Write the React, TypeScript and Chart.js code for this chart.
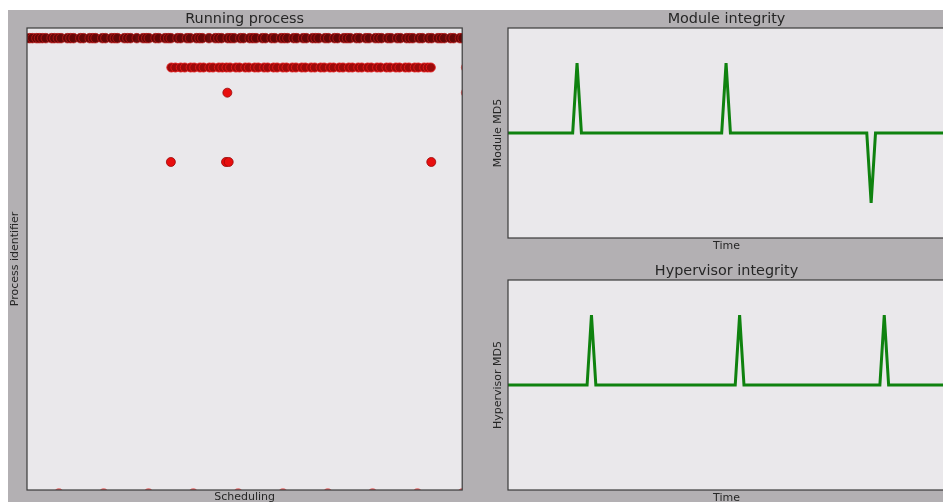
import React, { useEffect, useRef } from "react";
import { Chart, registerables } from "chart.js";

Chart.register(...registerables);

// ---------- Running process (scatter) ----------
const schedTop = [
  2.5, 3.4, 4.1, 5.0, 5.6, 6.3, 7.1, 8.4, 9.0, 9.8, 10.5, 11.9, 12.6, 13.3, 14.8, 15.5, 16.9, 17.6, 18.2,
  19.7, 20.4, 21.8, 22.5, 23.1, 24.6, 25.3, 26.0, 27.4, 28.8, 29.5, 30.1, 31.6, 32.3, 33.7, 34.4, 35.0,
  36.5, 37.2, 38.6, 39.3, 40.7, 41.4, 42.0, 43.5, 44.9, 45.6, 46.3, 47.7, 48.4, 49.1, 50.5, 51.2, 52.6,
  53.3, 54.0, 55.4, 56.1, 57.5, 58.2, 59.6, 60.3, 61.0, 62.4, 63.1, 64.5, 65.2, 66.6, 67.3, 68.0, 69.4,
  70.1, 71.5, 72.2, 73.6, 74.3, 75.0, 76.4, 77.1, 78.5, 79.2, 80.6, 81.3, 82.0, 83.4, 84.1, 85.5, 86.2,
  87.6, 88.3, 89.0, 90.4, 91.1, 92.5, 93.2, 94.6, 95.3, 96.0, 97.4, 98.1, 99.5, 100.1,
];
const pidTop = 97.8;

const schedRow2 = [
  35.1, 36.0, 37.2, 38.1, 39.4, 40.2, 41.5, 42.3, 43.6, 44.4, 45.7, 46.5, 47.4, 48.2, 49.5, 50.3, 51.6,
  52.4, 53.7, 54.5, 55.8, 56.6, 57.9, 58.7, 60.0, 60.8, 62.1, 62.9, 64.2, 65.0, 66.3, 67.1, 68.4, 69.2,
  70.5, 71.3, 72.6, 73.4, 74.7, 75.5, 76.8, 77.6, 78.9, 79.7, 81.0, 81.8, 83.1, 83.9, 85.2, 86.0, 87.3,
  88.1, 89.4, 90.2, 91.5, 92.3, 93.0,
];
const pidRow2 = 91.45;

const schedSingles = [47.6, 35.0, 47.3, 47.9, 93.1];
const pidSingles = [86.0, 71.0, 71.0, 71.0, 71.0];

const pidRightEdge = [91.45, 86.0, 77.5, 71.0];
const schedRightEdge = 100.7;
const schedBottomEdge = [10, 20, 30, 40, 50, 60, 70, 80, 90, 100];
const pidBottomEdge = -0.6;

// ---------- Module integrity ----------
const moduleTime = [0, 14.8, 15.8, 16.8, 48.9, 49.9, 50.9, 82.1, 83.1, 84.1, 100];
const moduleMD5 = [0, 0, 1, 0, 0, 1, 0, 0, -1, 0, 0];

// ---------- Hypervisor integrity ----------
const hyperTime = [0, 18.1, 19.1, 20.1, 52.0, 53.0, 54.0, 85.1, 86.1, 87.1, 100];
const hyperMD5 = [0, 0, 1, 0, 0, 1, 0, 0, 1, 0, 0];

const FONT = "DejaVu Sans";
const TEXT = "#262626";
const PLOT_BG = "#eae8eb";
const FIG_BG = "#b3b0b3";
const GREEN = "#0f820f";

const framePlugin = {
  id: "frame",
  beforeDatasetsDraw(chart: any) {
    const { ctx, chartArea } = chart;
    const { left, top, right, bottom } = chartArea;
    ctx.save();
    ctx.fillStyle = PLOT_BG;
    ctx.fillRect(left, top, right - left, bottom - top);
    ctx.restore();
  },
  afterDatasetsDraw(chart: any) {
    const { ctx, chartArea } = chart;
    const { left, top, right, bottom } = chartArea;
    ctx.save();
    ctx.strokeStyle = "#3a3a3a";
    ctx.lineWidth = 1.2;
    ctx.strokeRect(left, top, right - left, bottom - top);
    ctx.restore();
  },
};

function titleOpts(text: string) {
  return {
    display: true,
    text,
    color: TEXT,
    fullSize: false,
    font: { family: FONT, size: 14.4, weight: "normal" as const, lineHeight: "18px" },
    padding: { top: 0, bottom: 0 },
  };
}

function axisTitle(text: string, top: number, bottom: number) {
  return {
    display: true,
    text,
    color: TEXT,
    font: { family: FONT, size: 11, weight: "normal" as const, lineHeight: 1.2 },
    padding: { top, bottom },
  };
}

const hiddenGrid = { display: false, drawTicks: false, tickLength: 0 };

function ScatterPanel() {
  const ref = useRef<HTMLCanvasElement>(null);
  useEffect(() => {
    const chart = new Chart(ref.current!, {
      type: "scatter",
      data: {
        datasets: [
          {
            data: schedTop.map((x) => ({ x, y: pidTop })),
            backgroundColor: "rgba(100,6,6,0.97)",
            borderColor: "rgba(195,25,25,0.7)",
            borderWidth: 1,
            pointRadius: 4.8,
            clip: 0,
          },
          {
            data: schedRow2.map((x) => ({ x, y: pidRow2 })),
            backgroundColor: "rgba(155,10,10,1)",
            borderColor: "rgba(230,25,25,0.9)",
            borderWidth: 1,
            pointRadius: 4.5,
            clip: 0,
          },
          {
            data: schedSingles.map((x, i) => ({ x, y: pidSingles[i] })),
            backgroundColor: "#e80e0e",
            borderColor: "#9a0808",
            borderWidth: 0.8,
            pointRadius: 4.5,
            clip: 0,
          },
          {
            data: pidRightEdge.map((y) => ({ x: schedRightEdge, y })),
            backgroundColor: "rgba(230,70,70,0.8)",
            borderWidth: 0,
            pointRadius: 4.5,
            clip: 0,
          },
          {
            data: schedBottomEdge.map((x) => ({ x, y: pidBottomEdge })),
            backgroundColor: "rgba(230,70,70,0.8)",
            borderWidth: 0,
            pointRadius: 4.5,
            clip: 0,
          },
        ],
      },
      options: {
        animation: false,
        responsive: false,
        devicePixelRatio: 1,
        layout: { padding: { left: 0, right: 4, top: 0, bottom: 0 } },
        plugins: {
          legend: { display: false },
          tooltip: { enabled: false },
          title: titleOpts("Running process"),
        },
        scales: {
          x: {
            type: "linear",
            min: 2.9,
            max: 100,
            grid: hiddenGrid,
            border: { display: false },
            ticks: { display: false },
            title: axisTitle("Scheduling", 1, 0.8),
          },
          y: {
            type: "linear",
            min: 0,
            max: 100,
            grid: hiddenGrid,
            border: { display: false },
            ticks: { display: false },
            title: axisTitle("Process identifier", 0.9, 4.9),
          },
        },
      },
      plugins: [framePlugin],
    });
    return () => chart.destroy();
  }, []);
  return (
    <canvas
      ref={ref}
      width={460}
      height={495}
      style={{ position: "absolute", left: 0, top: 0, width: 460, height: 495 }}
    />
  );
}

function LinePanel(props: {
  times: number[];
  values: number[];
  title: string;
  ylabel: string;
  top: number;
}) {
  const ref = useRef<HTMLCanvasElement>(null);
  useEffect(() => {
    const chart = new Chart(ref.current!, {
      type: "line",
      data: {
        datasets: [
          {
            data: props.times.map((x, i) => ({ x, y: props.values[i] })),
            borderColor: GREEN,
            borderWidth: 3,
            pointRadius: 0,
            tension: 0,
            fill: false,
            clip: 0,
          },
        ],
      },
      options: {
        animation: false,
        responsive: false,
        devicePixelRatio: 1,
        layout: { padding: 0 },
        plugins: {
          legend: { display: false },
          tooltip: { enabled: false },
          title: titleOpts(props.title),
        },
        scales: {
          x: {
            type: "linear",
            min: 0,
            max: 100,
            grid: hiddenGrid,
            border: { display: false },
            ticks: { display: false },
            title: axisTitle("Time", 1.4, 0.4),
          },
          y: {
            type: "linear",
            min: -1.5,
            max: 1.5,
            grid: hiddenGrid,
            border: { display: false },
            ticks: { display: false },
            title: axisTitle(props.ylabel, 6.4, 3.4),
          },
        },
      },
      plugins: [framePlugin],
    });
    return () => chart.destroy();
  }, []);
  return (
    <canvas
      ref={ref}
      width={460}
      height={243}
      style={{ position: "absolute", left: 477, top: props.top, width: 460, height: 243 }}
    />
  );
}

export default function App() {
  return (
    <div
      style={{
        position: "fixed",
        left: 8,
        top: 10,
        right: 0,
        bottom: 0,
        overflow: "hidden",
        background: FIG_BG,
      }}
    >
      <ScatterPanel />
      <LinePanel times={moduleTime} values={moduleMD5} title="Module integrity" ylabel="Module MD5" top={0} />
      <LinePanel
        times={hyperTime}
        values={hyperMD5}
        title="Hypervisor integrity"
        ylabel="Hypervisor MD5"
        top={252}
      />
    </div>
  );
}
